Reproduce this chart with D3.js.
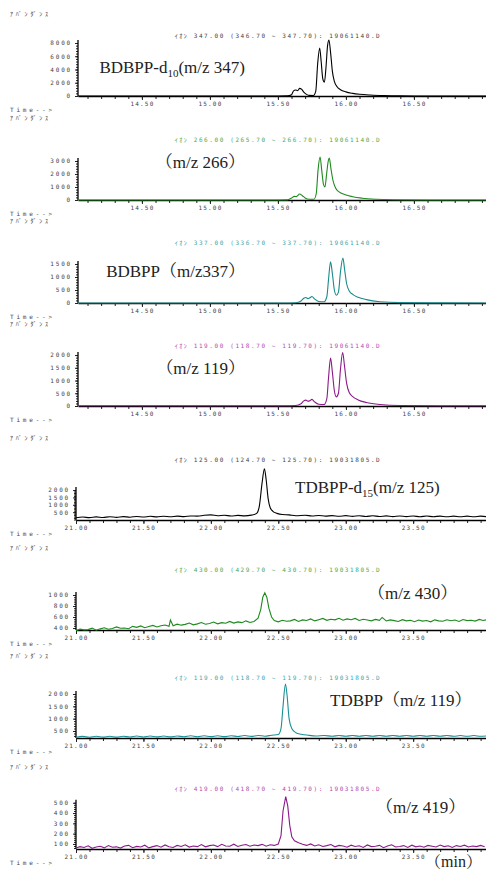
<!DOCTYPE html>
<html>
<head>
<meta charset="utf-8">
<script src="https://cdn.jsdelivr.net/npm/d3@7"></script>
<style>
	body { margin:0; background:#fff; }
	svg { display:block; }
	.tk { font-family:"DejaVu Sans Mono","Noto Sans CJK JP",monospace; font-size:6px; fill:#444; }
	.hd { font-family:"DejaVu Sans Mono","Noto Sans CJK JP",monospace; font-size:6px; letter-spacing:1.6px; }
	.side { font-family:"DejaVu Sans Mono","Noto Sans CJK JP",monospace; font-size:6px; letter-spacing:2.8px; fill:#444; }
	.lbl { font-family:"Liberation Serif","Noto Serif CJK JP","Noto Sans CJK JP",serif; font-size:17px; fill:#222; }
</style>
</head>
<body>
<svg id="chart" width="486" height="873"></svg>
<script>

// ion chromatograms, [retention time (min), abundance]
var titles = [
	"ｲｵﾝ 347.00 (346.70 ~ 347.70): 19061140.D",
	"ｲｵﾝ 266.00 (265.70 ~ 266.70): 19061140.D",
	"ｲｵﾝ 337.00 (336.70 ~ 337.70): 19061140.D",
	"ｲｵﾝ 119.00 (118.70 ~ 119.70): 19061140.D",
	"ｲｵﾝ 125.00 (124.70 ~ 125.70): 19031805.D",
	"ｲｵﾝ 430.00 (429.70 ~ 430.70): 19031805.D",
	"ｲｵﾝ 119.00 (118.70 ~ 119.70): 19031805.D",
	"ｲｵﾝ 419.00 (418.70 ~ 419.70): 19031805.D"
];

var topTimeRange = [14.03, 17.03];
var bottomTimeRange = [21.0, 24.04];
var topTimeTicks = [14.5, 15.0, 15.5, 16.0, 16.5];
var bottomTimeTicks = [21.0, 21.5, 22.0, 22.5, 23.0, 23.5];

var yDomains = [[0,8300],[0,4230],[0,2115],[0,2160],[-30,3700],[364,1364],[216,2446],[51,585]];
var yTicks = [
	[0,2000,4000,6000,8000],
	[0,1000,2000,3000],
	[0,500,1000,1500],
	[0,500,1000,1500,2000],
	[500,1000,1500,2000],
	[400,600,800,1000],
	[500,1000,1500,2000],
	[100,200,300,400,500]
];

var bdbppD10 = [[14.03,0],[15.50,0],[15.57,15],[15.60,200],[15.615,780],[15.63,900],[15.645,800],[15.66,1150],[15.675,1000],[15.69,600],[15.71,250],[15.73,90],[15.76,70],[15.778,700],[15.792,4800],[15.807,7250],[15.818,5200],[15.83,2600],[15.842,2100],[15.853,4200],[15.865,7600],[15.875,8450],[15.888,6400],[15.90,3800],[15.915,2200],[15.935,1400],[15.96,950],[16.00,620],[16.05,400],[16.10,260],[16.18,140],[16.28,60],[16.40,20],[16.6,5],[17.03,0]];

var bdbppD10m266 = [[14.03,0],[15.50,0],[15.57,10],[15.60,150],[15.62,280],[15.635,260],[15.66,460],[15.68,330],[15.70,160],[15.73,60],[15.765,60],[15.782,500],[15.795,2300],[15.81,3300],[15.822,2300],[15.835,1200],[15.846,1000],[15.858,2000],[15.87,3000],[15.878,3230],[15.89,2400],[15.905,1500],[15.925,900],[15.95,620],[15.99,420],[16.05,250],[16.12,140],[16.22,60],[16.35,20],[16.6,5],[17.03,0]];

var bdbpp = [[14.03,0],[15.55,0],[15.63,10],[15.67,80],[15.69,180],[15.705,210],[15.72,170],[15.735,200],[15.75,250],[15.77,150],[15.80,60],[15.84,50],[15.86,250],[15.872,900],[15.887,1580],[15.90,1150],[15.915,500],[15.93,300],[15.945,420],[15.96,1200],[15.978,1730],[15.99,1300],[16.005,750],[16.025,460],[16.05,330],[16.09,220],[16.15,130],[16.25,50],[16.4,15],[16.7,5],[17.03,0]];

var bdbppM119 = [[14.03,10],[15.55,10],[15.63,20],[15.67,90],[15.69,200],[15.705,230],[15.72,190],[15.735,210],[15.75,260],[15.77,160],[15.80,70],[15.84,60],[15.86,300],[15.872,1100],[15.887,1880],[15.90,1350],[15.915,600],[15.93,360],[15.945,500],[15.96,1450],[15.976,2100],[15.99,1550],[16.005,900],[16.025,520],[16.05,370],[16.09,240],[16.15,140],[16.25,60],[16.4,20],[16.7,10],[17.03,10]];

var tdbppD15 = [[21.00,120],[21.05,170],[21.10,130],[21.15,180],[21.20,140],[21.25,190],[21.30,150],[21.35,200],[21.40,160],[21.45,210],[21.50,170],[21.55,220],[21.60,180],[21.65,225],[21.70,190],[21.75,235],[21.80,200],[21.85,245],[21.90,230],[21.95,290],[22.00,320],[22.05,260],[22.10,290],[22.15,240],[22.20,285],[22.25,250],[22.30,300],[22.34,420],[22.36,950],[22.38,2500],[22.397,3450],[22.41,2700],[22.425,1400],[22.44,800],[22.46,560],[22.49,420],[22.53,340],[22.58,320],[22.63,260],[22.70,290],[22.75,240],[22.80,280],[22.85,230],[22.90,270],[22.95,220],[23.00,265],[23.05,215],[23.10,260],[23.15,210],[23.20,255],[23.25,205],[23.30,250],[23.35,200],[23.40,245],[23.45,200],[23.50,240],[23.55,195],[23.60,240],[23.65,195],[23.70,235],[23.75,190],[23.80,235],[23.85,190],[23.90,230],[23.95,190],[24.00,230],[24.04,200]];

var tdbppM430 = [[21.00,352],[21.03,380],[21.06,366],[21.09,371],[21.12,398],[21.15,360],[21.18,385],[21.21,404],[21.24,378],[21.27,392],[21.30,420],[21.33,395],[21.36,401],[21.39,388],[21.42,430],[21.45,412],[21.48,438],[21.51,405],[21.54,426],[21.57,448],[21.60,420],[21.63,442],[21.66,455],[21.69,432],[21.70,545],[21.72,440],[21.75,470],[21.78,452],[21.81,466],[21.84,490],[21.87,458],[21.90,475],[21.93,500],[21.96,468],[21.99,482],[22.02,508],[22.05,476],[22.08,497],[22.11,486],[22.14,520],[22.17,490],[22.20,512],[22.23,498],[22.26,530],[22.29,500],[22.32,518],[22.35,580],[22.37,740],[22.385,960],[22.40,1040],[22.415,960],[22.43,760],[22.45,600],[22.47,535],[22.50,512],[22.53,540],[22.56,522],[22.59,530],[22.62,556],[22.65,520],[22.68,548],[22.71,536],[22.74,566],[22.77,530],[22.80,552],[22.83,574],[22.86,540],[22.89,560],[22.92,548],[22.95,578],[22.98,542],[23.01,566],[23.04,550],[23.07,575],[23.10,538],[23.13,560],[23.16,546],[23.19,530],[23.22,556],[23.25,540],[23.27,592],[23.30,528],[23.33,548],[23.36,535],[23.39,520],[23.42,552],[23.45,530],[23.48,540],[23.51,515],[23.54,545],[23.57,526],[23.60,536],[23.63,512],[23.66,548],[23.69,530],[23.72,522],[23.75,550],[23.78,532],[23.81,545],[23.84,520],[23.87,555],[23.90,534],[23.93,542],[23.96,526],[23.99,556],[24.02,536],[24.04,548]];

var tdbpp = [[21.00,240],[21.05,280],[21.10,245],[21.15,285],[21.20,250],[21.25,290],[21.30,250],[21.35,290],[21.40,255],[21.45,295],[21.50,255],[21.55,295],[21.60,260],[21.65,300],[21.70,260],[21.75,300],[21.80,265],[21.85,305],[21.90,265],[21.95,305],[22.00,270],[22.05,310],[22.10,270],[22.15,310],[22.20,275],[22.25,315],[22.30,280],[22.35,320],[22.40,290],[22.45,330],[22.50,360],[22.52,600],[22.535,1500],[22.553,2400],[22.565,1950],[22.58,1000],[22.60,600],[22.63,430],[22.67,370],[22.72,330],[22.78,300],[22.84,320],[22.90,285],[22.95,320],[23.00,285],[23.05,320],[23.10,285],[23.15,320],[23.20,285],[23.25,320],[23.30,285],[23.35,320],[23.40,285],[23.45,320],[23.50,285],[23.55,320],[23.60,285],[23.65,320],[23.70,285],[23.75,320],[23.80,285],[23.85,315],[23.90,285],[23.95,315],[24.00,285],[24.04,300]];

var tdbppM419 = [[21.00,60],[21.03,74],[21.06,66],[21.09,82],[21.12,58],[21.15,70],[21.18,78],[21.21,62],[21.24,84],[21.27,68],[21.30,72],[21.33,60],[21.36,80],[21.39,86],[21.42,64],[21.45,76],[21.48,70],[21.51,88],[21.54,62],[21.57,74],[21.60,84],[21.63,68],[21.66,90],[21.69,72],[21.72,66],[21.75,86],[21.78,76],[21.81,92],[21.84,70],[21.87,80],[21.90,74],[21.93,94],[21.96,72],[21.99,84],[22.02,90],[22.05,74],[22.08,96],[22.11,80],[22.14,78],[22.17,98],[22.20,76],[22.23,88],[22.26,94],[22.29,78],[22.32,90],[22.35,84],[22.38,96],[22.41,78],[22.44,92],[22.47,86],[22.50,100],[22.52,180],[22.535,420],[22.555,560],[22.57,470],[22.585,280],[22.60,170],[22.62,130],[22.65,112],[22.68,98],[22.71,86],[22.74,100],[22.77,80],[22.80,92],[22.83,76],[22.86,84],[22.89,94],[22.92,72],[22.95,86],[22.98,80],[23.01,68],[23.04,88],[23.07,76],[23.10,82],[23.13,66],[23.16,90],[23.19,74],[23.22,78],[23.25,86],[23.28,64],[23.31,80],[23.34,92],[23.37,70],[23.40,76],[23.43,84],[23.46,66],[23.49,88],[23.52,72],[23.55,80],[23.58,68],[23.61,86],[23.64,78],[23.67,70],[23.70,90],[23.73,74],[23.76,82],[23.79,66],[23.82,84],[23.85,76],[23.88,88],[23.91,70],[23.94,80],[23.97,74],[24.00,86],[24.03,72]];

var traces = [bdbppD10, bdbppD10m266, bdbpp, bdbppM119, tdbppD15, tdbppM430, tdbpp, tdbppM419];

var lineColors = ["#000000","#1e8a1e","#1a8a8c","#8a1a8a","#000000","#1e8a1e","#1a8f96","#8a1a8a"];
var titleColors = ["#444444","#4aa84a","#3aa6ac","#b04cb0","#444444","#4aa84a","#3aa6ac","#b04cb0"];

// layout
var panelTitleY = [36,140,243,346,460,570,678,789];
var plotH = 55;
var width = 486;

var svg = d3.select("#chart");
var fmtT = d3.format(".2f");

var drawPanel = function(i) {
	var T = panelTitleY[i],
		axisY = T + 60,
		lower = i >= 4,
		x0 = lower ? 76 : 78;

	var x = d3.scaleLinear().domain(lower ? bottomTimeRange : topTimeRange).range([x0, width]);
	var y = d3.scaleLinear().domain(yDomains[i]).range([axisY, axisY - plotH]);
	var g = svg.append("g").attr("class","panel");

	g.append("text").attr("class","side").attr("x",10).attr("y",T - 20).text("ｱﾊﾞﾝﾀﾞﾝｽ");
	g.append("text").attr("class","side").attr("x",10).attr("y",axisY + 16).text("Time-->");

	g.append("text").attr("class","hd")
		.attr("x",278).attr("y",T + 2)
		.attr("text-anchor","middle")
		.style("fill",titleColors[i])
		.text(titles[i]);

	// minor time ticks every 0.1 min
	var d = x.domain();
	var minor = d3.range(Math.ceil(d[0]*10), Math.floor(d[1]*10) + 1).map(function(v){ return v/10; });
	g.append("g").attr("transform","translate(0," + axisY + ")")
		.call(d3.axisBottom(x).tickValues(minor).tickSize(3).tickSizeOuter(0).tickFormat(""))
		.call(function(s){ s.select(".domain").remove(); s.selectAll("line").attr("stroke","#222"); });

	var xa = g.append("g").attr("transform","translate(0," + axisY + ")")
		.call(d3.axisBottom(x).tickValues(lower ? bottomTimeTicks : topTimeTicks).tickSize(4).tickSizeOuter(0).tickPadding(2).tickFormat(fmtT));
	xa.select(".domain").attr("stroke","#000").attr("stroke-width",1.6);
	xa.selectAll("line").attr("stroke","#222");
	xa.selectAll("text").attr("class","tk").attr("font-size",null).attr("font-family",null).style("letter-spacing","1.2px").attr("dy","0.6em");

	// y axis
	var ticks = yTicks[i];
	var topTick = ticks[ticks.length-1];
	var step = ticks[1] - ticks[0];
	var yminor = d3.range(Math.ceil(yDomains[i][0]/(step/5)), Math.floor(topTick/(step/5)) + 1).map(function(v){ return v*step/5; });
	g.append("g").attr("transform","translate(" + x0 + ",0)")
		.call(d3.axisLeft(y).tickValues(yminor).tickSize(2).tickFormat(""))
		.call(function(s){ s.select(".domain").remove(); s.selectAll("line").attr("stroke","#222"); });

	var ya = g.append("g").attr("transform","translate(" + x0 + ",0)")
		.call(d3.axisLeft(y).tickValues(ticks).tickSize(3).tickPadding(3).tickFormat(d3.format("d")));
	ya.select(".domain").remove();
	ya.selectAll("line").attr("stroke","#222");
	ya.selectAll("text").attr("class","tk").attr("font-size",null).attr("font-family",null).style("letter-spacing","1.8px");

	g.append("line")
		.attr("x1",x0).attr("x2",x0)
		.attr("y1",axisY).attr("y2",y(topTick) - 3)
		.attr("stroke","#000").attr("stroke-width",1.3);

	var line = d3.line()
		.x(function(p){ return x(p[0]); })
		.y(function(p){ return y(p[1]); })
		.curve(i === 5 || i === 7 ? d3.curveLinear : d3.curveMonotoneX);

	g.append("path")
		.datum(traces[i])
		.attr("fill","none")
		.attr("stroke",lineColors[i])
		.attr("stroke-width",1.1)
		.attr("d",line);
};

for ( var i = 0; i < traces.length; i++ ) drawPanel(i);

// compound labels
var addLabel = function(xp, yp, anchor, parts, size) {
	var t = svg.append("text").attr("class","lbl").attr("x",xp).attr("y",yp).attr("text-anchor",anchor);
	if (size) t.style("font-size",size + "px");
	parts.forEach(function(p) {
		var s = t.append("tspan").text(p.t);
		if (p.sub) s.attr("font-size","11px").attr("dy",4);
		if (p.up) s.attr("dy",-4);
	});
};

addLabel(245, 73, "end", [{t:"BDBPP-d"},{t:"10",sub:true},{t:"(m/z 347)",up:true}]);
addLabel(245, 168, "end", [{t:"（m/z 266）"}]);
addLabel(245, 277, "end", [{t:"BDBPP（m/z337）"}]);
addLabel(245, 374, "end", [{t:"（m/z 119）"}]);
addLabel(295, 493, "start", [{t:"TDBPP-d"},{t:"15",sub:true},{t:"(m/z 125)",up:true}]);
addLabel(368, 599, "start", [{t:"（m/z 430）"}]);
addLabel(330, 706, "start", [{t:"TDBPP（m/z 119）"}]);
addLabel(376, 813, "start", [{t:"（m/z 419）"}]);
addLabel(482, 867, "end", [{t:"（min）"}], 16);

</script>
</body>
</html>
